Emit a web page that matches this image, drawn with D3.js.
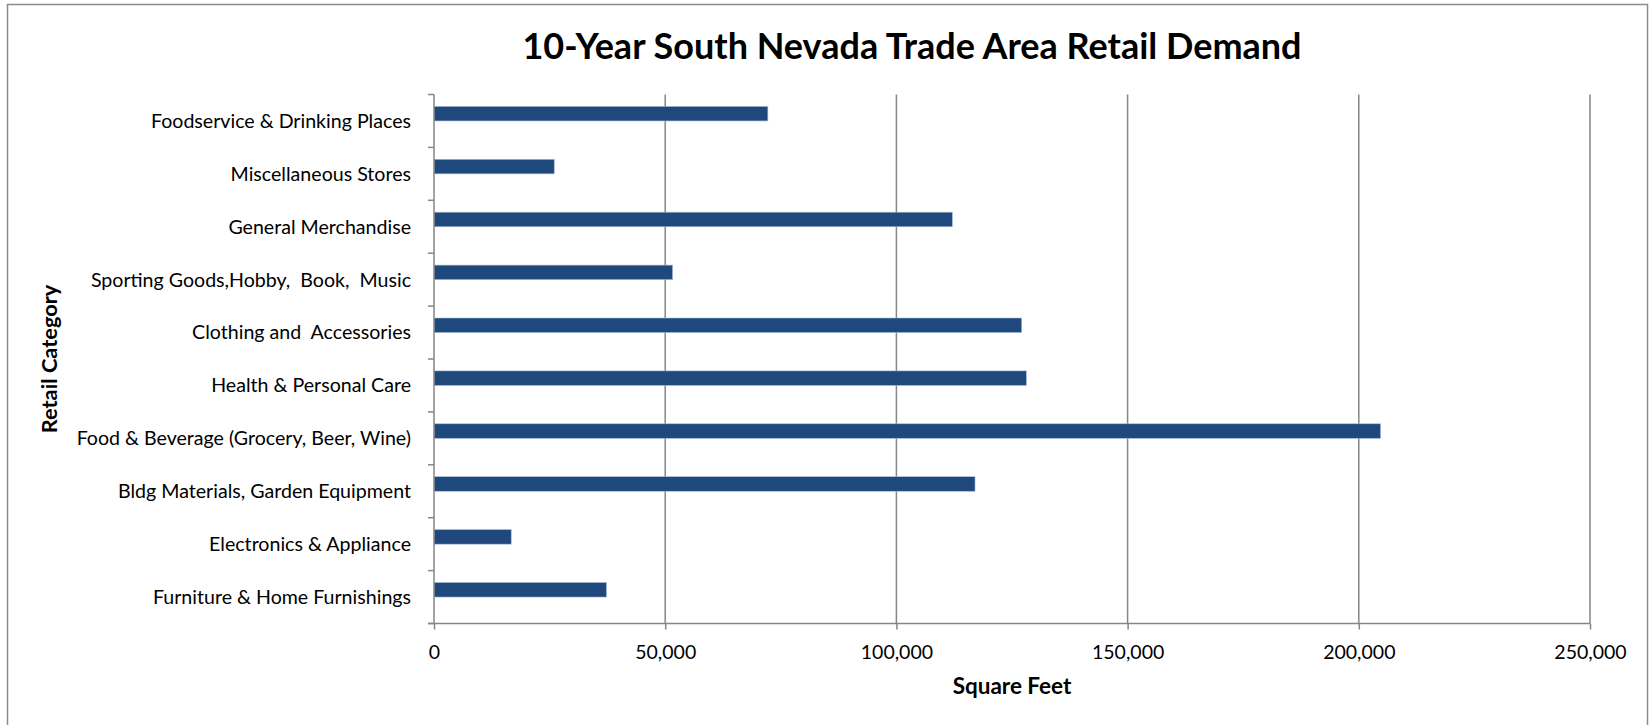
<!DOCTYPE html>
<html>
<head>
<meta charset="utf-8">
<script src="https://cdn.jsdelivr.net/npm/d3@7"></script>
<style>
  body { margin: 0; background: #fff; }
  text { font-family: Lato, "Open Sans", sans-serif; fill: #000; }
</style>
</head>
<body>
<div id="chart"></div>
<script>
(function () {

  // categories top to bottom, as in the chart
  const categories = [
    'Foodservice & Drinking Places',
    'Miscellaneous Stores',
    'General Merchandise',
    'Sporting Goods,Hobby,  Book,  Music',
    'Clothing and  Accessories',
    'Health & Personal Care',
    'Food & Beverage (Grocery, Beer, Wine)',
    'Bldg Materials, Garden Equipment',
    'Electronics & Appliance',
    'Furniture & Home Furnishings'
  ]

  // square feet
  const values = [72200, 26000, 112100, 51600, 127100, 128100, 204700, 117000, 16700, 37300]

  const xTicks = [0, 50000, 100000, 150000, 200000, 250000]

  const W = 1652
  const H = 725
  const margin = { top: 94.5, right: 62, bottom: 101.5, left: 434 }
  const width = W - margin.left - margin.right
  const height = H - margin.top - margin.bottom

  const root = d3.select('#chart').append('svg')
    .attr('width', W)
    .attr('height', H)

  // outer chart border
  root.append('rect')
    .attr('x', 7.5)
    .attr('y', 4.5)
    .attr('width', 1640)
    .attr('height', 740)
    .attr('fill', 'none')
    .attr('stroke', '#8c8c8c')
    .attr('stroke-width', 1.5)

  root.append('text')
    .attr('x', 912)
    .attr('y', 59)
    .attr('text-anchor', 'middle')
    .attr('font-size', 36)
    .attr('font-weight', 'bold')
    .text('10-Year South Nevada Trade Area Retail Demand')

  const svg = root.append('g')
    .attr('transform', 'translate(' + margin.left + ',' + margin.top + ')')

  const xPositionScale = d3.scaleLinear()
    .domain([0, 250000])
    .range([0, width])

  const yPositionScale = d3.scaleBand()
    .domain(categories)
    .range([0, height])

  // vertical gridlines
  svg.selectAll('.grid')
    .data(xTicks.slice(1))
    .join('line')
    .attr('class', 'grid')
    .attr('x1', d => xPositionScale(d))
    .attr('x2', d => xPositionScale(d))
    .attr('y1', 0)
    .attr('y2', height)
    .attr('stroke', '#868686')
    .attr('stroke-width', 1.5)

  const bw = yPositionScale.bandwidth()
  svg.selectAll('.bar')
    .data(categories)
    .join('rect')
    .attr('class', 'bar')
    .attr('x', xPositionScale(0))
    .attr('y', d => yPositionScale(d) + bw * 0.225)
    .attr('height', bw * 0.275)
    .attr('width', (d, i) => xPositionScale(values[i]) - xPositionScale(0))
    .attr('fill', '#1f497d')
    .attr('stroke', '#a7bcd8')
    .attr('stroke-width', 0.6)

  // y axis: ticks between categories
  const yEdges = categories.map(d => yPositionScale(d)).concat([height])
  svg.append('line')
    .attr('x1', 0).attr('x2', 0)
    .attr('y1', 0).attr('y2', height)
    .attr('stroke', '#868686')
    .attr('stroke-width', 1.5)
  svg.selectAll('.ytick')
    .data(yEdges)
    .join('line')
    .attr('class', 'ytick')
    .attr('x1', -6).attr('x2', 0)
    .attr('y1', d => d).attr('y2', d => d)
    .attr('stroke', '#868686')
    .attr('stroke-width', 1.5)
  svg.selectAll('.ylabel')
    .data(categories)
    .join('text')
    .attr('class', 'ylabel')
    .attr('x', -23)
    .attr('y', d => yPositionScale(d) + bw / 2)
    .attr('dy', '0.35em')
    .attr('text-anchor', 'end')
    .attr('font-size', 19.6)
    .style('white-space', 'pre')
    .text(d => d)

  // x axis
  const xAxis = d3.axisBottom(xPositionScale)
    .tickValues(xTicks)
    .tickSize(6)
    .tickPadding(16)
    .tickFormat(d3.format(','))
  const xg = svg.append('g')
    .attr('class', 'axis x-axis')
    .attr('transform', 'translate(0,' + height + ')')
    .call(xAxis)
  xg.select('.domain')
    .attr('d', 'M-6,0H' + width)
    .attr('stroke', '#868686')
    .attr('stroke-width', 1.5)
  xg.selectAll('.tick line').attr('stroke', '#868686').attr('stroke-width', 1.5)
  xg.selectAll('.tick text')
    .attr('font-size', 19.5)
    .attr('font-family', 'Lato, sans-serif')
    .attr('fill', '#000')

  svg.append('text')
    .attr('x', width / 2)
    .attr('y', height + 70)
    .attr('text-anchor', 'middle')
    .attr('font-size', 22.5)
    .attr('font-weight', 'bold')
    .text('Square Feet')

  svg.append('text')
    .attr('transform', 'translate(' + (49 - margin.left) + ',' + (height / 2) + ') rotate(-90)')
    .attr('dy', '0.35em')
    .attr('text-anchor', 'middle')
    .attr('font-size', 21.8)
    .attr('font-weight', 'bold')
    .text('Retail Category')

})();
</script>
</body>
</html>
